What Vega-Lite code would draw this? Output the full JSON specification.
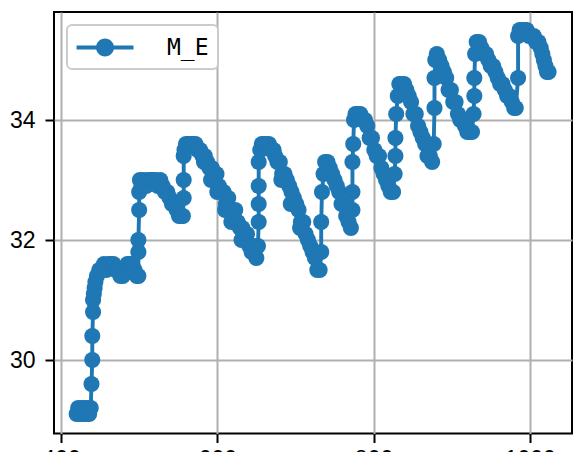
{
  "$schema": "https://vega.github.io/schema/vega-lite/v6.json",
  "width": 518,
  "height": 421.5,
  "autosize": {"type": "none"},
  "padding": {"left": 54, "top": 12, "right": 1, "bottom": 18.5},
  "background": "white",
  "config": {
    "view": {"stroke": "black", "strokeWidth": 2},
    "axis": {
      "grid": true, "gridColor": "#b0b0b0", "gridWidth": 2, "domain": false,
      "tickColor": "black", "tickWidth": 2, "tickSize": 9,
      "labelFont": "Liberation Sans", "labelFontSize": 23, "labelColor": "black", "title": null
    },
    "legend": {"strokeWidth": 2}
  },
  "data": {"values": [
    {"x":420,"y":29.1},{"x":422,"y":29.2},{"x":424,"y":29.1},{"x":426,"y":29.2},{"x":428,"y":29.1},{"x":430,"y":29.2},{"x":432,"y":29.1},{"x":434,"y":29.2},{"x":436,"y":29.1},{"x":438,"y":29.2},
    {"x":439,"y":29.6},{"x":440,"y":30.0},{"x":440,"y":30.4},{"x":441,"y":30.8},{"x":441,"y":31.0},{"x":442,"y":31.1},{"x":443,"y":31.2},
    {"x":444,"y":31.3},{"x":446,"y":31.4},{"x":449,"y":31.5},{"x":452,"y":31.5},{"x":455,"y":31.6},{"x":458,"y":31.5},{"x":461,"y":31.6},{"x":464,"y":31.6},{"x":467,"y":31.6},{"x":470,"y":31.5},{"x":473,"y":31.5},{"x":476,"y":31.4},{"x":479,"y":31.4},{"x":482,"y":31.5},{"x":485,"y":31.6},{"x":488,"y":31.6},{"x":491,"y":31.6},{"x":494,"y":31.5},{"x":497,"y":31.4},{"x":499,"y":31.4},
    {"x":499,"y":31.8},{"x":499,"y":32.0},{"x":500,"y":32.5},{"x":500,"y":32.8},{"x":501,"y":33.0},
    {"x":503,"y":32.9},{"x":506,"y":33.0},{"x":509,"y":32.9},{"x":512,"y":33.0},{"x":515,"y":33.0},{"x":518,"y":33.0},{"x":521,"y":33.0},{"x":524,"y":32.9},{"x":527,"y":33.0},{"x":530,"y":32.9},
    {"x":533,"y":32.8},{"x":536,"y":32.8},{"x":539,"y":32.7},{"x":542,"y":32.6},{"x":545,"y":32.6},{"x":548,"y":32.5},{"x":551,"y":32.4},{"x":554,"y":32.4},{"x":556,"y":32.4},
    {"x":557,"y":32.7},{"x":557,"y":33.0},{"x":557,"y":33.4},{"x":558,"y":33.5},{"x":560,"y":33.6},{"x":563,"y":33.6},{"x":566,"y":33.6},{"x":569,"y":33.6},{"x":572,"y":33.6},{"x":575,"y":33.5},{"x":578,"y":33.5},
    {"x":581,"y":33.4},{"x":583,"y":33.3},{"x":584,"y":33.4},{"x":587,"y":33.3},{"x":590,"y":33.2},{"x":592,"y":33.0},{"x":593,"y":33.2},{"x":596,"y":33.0},{"x":599,"y":33.1},{"x":600,"y":32.8},{"x":602,"y":32.9},{"x":605,"y":32.8},{"x":608,"y":32.8},{"x":610,"y":32.5},{"x":611,"y":32.6},{"x":614,"y":32.7},{"x":617,"y":32.5},{"x":618,"y":32.3},{"x":620,"y":32.4},{"x":623,"y":32.5},{"x":626,"y":32.3},{"x":629,"y":32.2},{"x":631,"y":32.0},{"x":632,"y":32.2},{"x":635,"y":32.0},{"x":638,"y":32.1},{"x":641,"y":31.9},{"x":644,"y":31.8},{"x":647,"y":31.9},{"x":650,"y":31.7},
    {"x":652,"y":31.9},{"x":653,"y":32.3},{"x":653,"y":32.6},{"x":653,"y":32.9},{"x":653,"y":33.3},{"x":655,"y":33.5},{"x":657,"y":33.6},{"x":660,"y":33.6},{"x":663,"y":33.6},{"x":666,"y":33.6},{"x":669,"y":33.5},{"x":672,"y":33.5},
    {"x":674,"y":33.4},{"x":677,"y":33.3},{"x":680,"y":33.3},{"x":682,"y":33.0},{"x":683,"y":33.1},{"x":686,"y":33.1},{"x":689,"y":33.0},{"x":692,"y":32.9},{"x":694,"y":32.6},{"x":695,"y":32.8},{"x":698,"y":32.7},{"x":701,"y":32.6},{"x":704,"y":32.5},{"x":706,"y":32.2},{"x":707,"y":32.3},{"x":710,"y":32.3},{"x":713,"y":32.1},{"x":716,"y":32.0},{"x":719,"y":31.9},{"x":722,"y":31.8},{"x":725,"y":31.7},{"x":728,"y":31.5},{"x":731,"y":31.5},
    {"x":733,"y":31.8},{"x":733,"y":32.3},{"x":734,"y":32.8},{"x":736,"y":33.1},{"x":738,"y":33.3},{"x":741,"y":33.3},{"x":744,"y":33.2},
    {"x":747,"y":33.1},{"x":750,"y":33.0},{"x":753,"y":32.9},{"x":756,"y":32.8},{"x":759,"y":32.6},{"x":762,"y":32.6},{"x":765,"y":32.4},{"x":768,"y":32.3},{"x":771,"y":32.2},
    {"x":773,"y":32.5},{"x":773,"y":32.8},{"x":773,"y":33.3},{"x":774,"y":33.6},{"x":775,"y":34.0},{"x":777,"y":34.1},{"x":780,"y":34.1},{"x":783,"y":34.1},{"x":786,"y":34.0},
    {"x":789,"y":34.0},{"x":792,"y":33.9},{"x":795,"y":33.7},{"x":798,"y":33.7},{"x":801,"y":33.5},{"x":804,"y":33.4},{"x":807,"y":33.4},{"x":810,"y":33.2},{"x":813,"y":33.1},{"x":816,"y":33.0},{"x":819,"y":32.9},{"x":822,"y":32.8},{"x":825,"y":32.8},
    {"x":827,"y":33.1},{"x":828,"y":33.4},{"x":828,"y":33.7},{"x":829,"y":34.1},{"x":831,"y":34.4},{"x":833,"y":34.6},{"x":836,"y":34.6},{"x":839,"y":34.6},{"x":842,"y":34.5},
    {"x":845,"y":34.4},{"x":848,"y":34.3},{"x":851,"y":34.1},{"x":854,"y":34.1},{"x":857,"y":33.9},{"x":860,"y":33.8},{"x":863,"y":33.7},{"x":866,"y":33.6},{"x":869,"y":33.4},{"x":872,"y":33.4},{"x":875,"y":33.3},
    {"x":877,"y":33.6},{"x":878,"y":34.2},{"x":878,"y":34.7},{"x":879,"y":35.0},{"x":881,"y":35.1},{"x":884,"y":35.0},{"x":887,"y":34.9},
    {"x":890,"y":34.8},{"x":893,"y":34.7},{"x":896,"y":34.5},{"x":899,"y":34.5},{"x":902,"y":34.3},{"x":905,"y":34.3},{"x":908,"y":34.1},{"x":911,"y":34.0},{"x":914,"y":34.0},{"x":917,"y":33.9},{"x":920,"y":33.8},{"x":923,"y":33.8},{"x":926,"y":33.8},
    {"x":928,"y":34.1},{"x":929,"y":34.4},{"x":929,"y":34.7},{"x":930,"y":35.1},{"x":932,"y":35.3},{"x":935,"y":35.3},{"x":938,"y":35.2},{"x":941,"y":35.1},
    {"x":944,"y":35.1},{"x":947,"y":35.0},{"x":950,"y":34.9},{"x":953,"y":34.9},{"x":956,"y":34.8},{"x":959,"y":34.7},{"x":962,"y":34.6},{"x":965,"y":34.6},{"x":968,"y":34.5},{"x":971,"y":34.4},{"x":974,"y":34.4},{"x":977,"y":34.3},{"x":980,"y":34.2},{"x":982,"y":34.2},
    {"x":985,"y":34.7},{"x":985,"y":35.4},{"x":987,"y":35.5},{"x":990,"y":35.5},{"x":993,"y":35.5},{"x":996,"y":35.5},{"x":999,"y":35.4},{"x":1002,"y":35.4},
    {"x":1005,"y":35.4},{"x":1008,"y":35.3},{"x":1011,"y":35.3},{"x":1014,"y":35.2},{"x":1016,"y":35.1},{"x":1018,"y":35.0},{"x":1020,"y":34.9},{"x":1022,"y":34.8},{"x":1024,"y":34.8}
  ]},
  "encoding": {
    "x": {"field": "x", "type": "quantitative", "scale": {"domain": [391, 1054], "nice": false, "zero": false},
          "axis": {"values": [400, 600, 800, 1000], "format": "d", "labelPadding": 6}},
    "y": {"field": "y", "type": "quantitative", "scale": {"domain": [28.775, 35.8], "nice": false, "zero": false},
          "axis": {"values": [30, 32, 34], "format": "d", "labelPadding": 10}},
    "color": {"datum": "M_E", "scale": {"range": ["#1f77b4"]},
      "legend": {
        "orient": "top-left", "offset": 13, "padding": 9, "title": null,
        "strokeColor": "#cccccc", "cornerRadius": 5, "fillColor": "white",
        "symbolType": "M -0.96 -0.144 L 3.26 -0.144 L 3.26 0.144 L -0.96 0.144 Z M 1.817 0 A 0.667 0.667 0 1 1 0.483 0 A 0.667 0.667 0 1 1 1.817 0 Z",
        "symbolSize": 729, "symbolFillColor": "#1f77b4", "symbolStrokeWidth": 0, "symbolOpacity": 1,
        "labelFont": "DejaVu Sans Mono", "labelFontSize": 23, "labelColor": "black", "labelOffset": 64
      }
    }
  },
  "layer": [
    {"mark": {"type": "line", "strokeWidth": 3.9}},
    {"mark": {"type": "point", "filled": true, "size": 260, "opacity": 1}}
  ]
}
